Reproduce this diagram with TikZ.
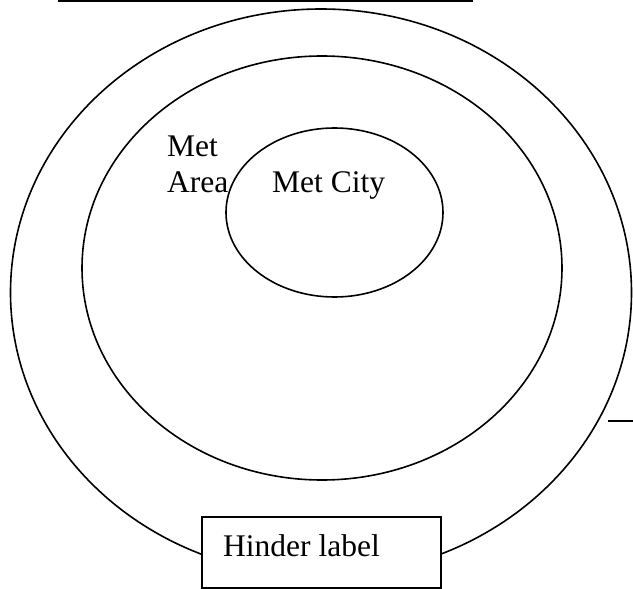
\documentclass[tikz,border=0pt]{standalone}
\usepackage{fontspec}
\setmainfont{Liberation Serif}
\begin{document}
\begin{tikzpicture}[x=1pt,y=-1pt,
  ring/.style={draw=black,line width=1.6pt},
  lbl/.style={inner sep=0pt,anchor=base west,font=\fontsize{31.5}{36}\selectfont},
  labelbox/.style={draw=black,fill=white,line width=1.6pt,rectangle,inner sep=0pt,minimum width=239pt,minimum height=71pt}]
\useasboundingbox (0,0) rectangle (633,589);
% top rule
\coordinate (tl) at (58,1);
\coordinate (tr) at (473,1);
\draw[line width=1.6pt] (tl) -- (tr);
% outer ring
\draw[ring] (321,292.5) ellipse [x radius=310.5, y radius=283.5];
% middle ring (Met Area)
\draw[ring] (322,268) ellipse [x radius=240, y radius=212];
% inner ring (Met City)
\draw[ring] (334.5,212.5) ellipse [x radius=108.5, y radius=84.5];
% small tick at right
\coordinate (ta) at (608,421);
\coordinate (tb) at (633,421);
\draw[line width=1.6pt] (ta) -- (tb);
% labels
\node[lbl] (metcity) at (272,192) {Met City};
\node[lbl] (met) at (167,156) {Met};
\node[lbl] (area) at (167,192) {Area};
% hinder label box
\node[labelbox] (hbox) at (321.5,552.5) {};
\node[lbl] (htext) at (223,556) {Hinder label};
\end{tikzpicture}
\end{document}
